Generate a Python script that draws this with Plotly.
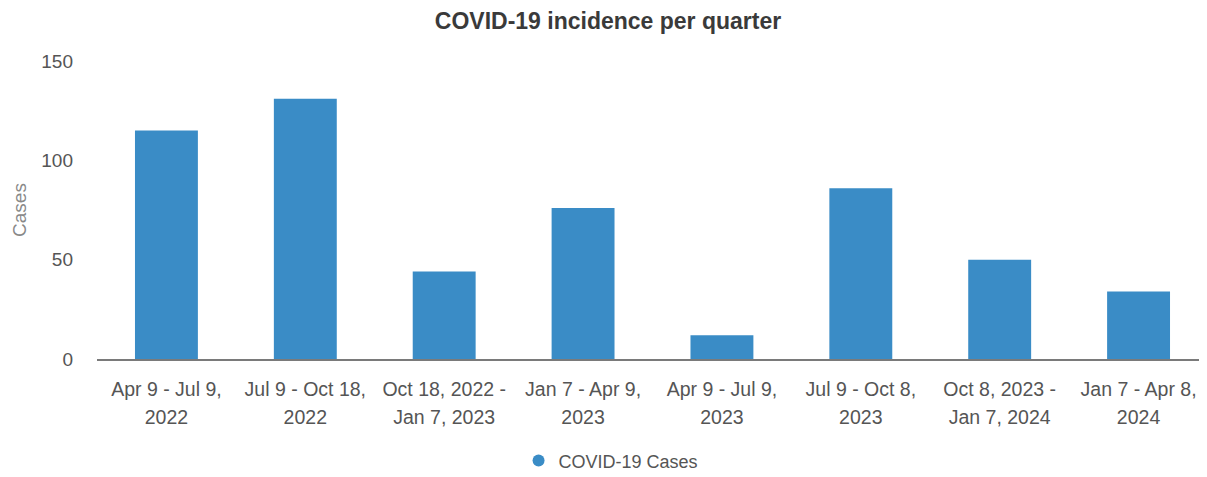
import plotly.graph_objects as go

category_lines = [
    ("Apr 9 - Jul 9,", "2022"),
    ("Jul 9 - Oct 18,", "2022"),
    ("Oct 18, 2022 -", "Jan 7, 2023"),
    ("Jan 7 - Apr 9,", "2023"),
    ("Apr 9 - Jul 9,", "2023"),
    ("Jul 9 - Oct 8,", "2023"),
    ("Oct 8, 2023 -", "Jan 7, 2024"),
    ("Jan 7 - Apr 8,", "2024"),
]
cases = [115, 131, 44, 76, 12, 86, 50, 34]
y_ticks = [0, 50, 100, 150]
series_name = "COVID-19 Cases"
title_text = "COVID-19 incidence per quarter"

BAR_COLOR = "#3a8cc6"

categories = [
    "<br>".join(f'<span style="font-size:19.5px">{l}</span>' for l in lines)
    for lines in category_lines
]

fig = go.Figure()
fig.add_trace(go.Bar(
    x=categories,
    y=cases,
    name=series_name,
    marker=dict(color=BAR_COLOR, line=dict(width=0)),
    showlegend=False,
))
# legend entry with a round marker
fig.add_trace(go.Scatter(
    x=[categories[0]],
    y=[None],
    mode="markers",
    name=series_name,
    marker=dict(color=BAR_COLOR, size=16, symbol="circle"),
    showlegend=True,
    hoverinfo="skip",
))

fig.update_layout(
    width=1200,
    height=477,
    margin=dict(l=89, r=0, t=53, b=126, autoexpand=False),
    paper_bgcolor="white",
    plot_bgcolor="white",
    font=dict(family="Liberation Sans, Arial, sans-serif", color="#555555", size=19),
    title=dict(
        text="<b>" + title_text + "</b>",
        x=0.5,
        xanchor="center",
        y=1 - 13 / 477,
        yanchor="middle",
        font=dict(size=23, color="#3a3a3a"),
    ),
    bargap=0.547,
    xaxis=dict(
        showline=True,
        linecolor="#7a7a7a",
        linewidth=1.5,
        showgrid=False,
        ticks="",
        tickangle=0,
        ticklabelstandoff=9,
        tickfont=dict(size=21.5, color="#555555"),
        fixedrange=True,
    ),
    yaxis=dict(
        range=[0, 150],
        tickvals=y_ticks,
        showgrid=False,
        zeroline=False,
        showline=False,
        ticks="",
        ticklabelstandoff=23,
        title=dict(text="Cases", font=dict(size=19, color="#888888"), standoff=9),
        tickfont=dict(size=19, color="#555555"),
        fixedrange=True,
    ),
    legend=dict(
        orientation="h",
        x=0.4627,
        xanchor="center",
        y=-0.342,
        yanchor="middle",
        font=dict(size=18, color="#555555"),
        itemsizing="constant",
    ),
)

fig.write_html("out.html")
